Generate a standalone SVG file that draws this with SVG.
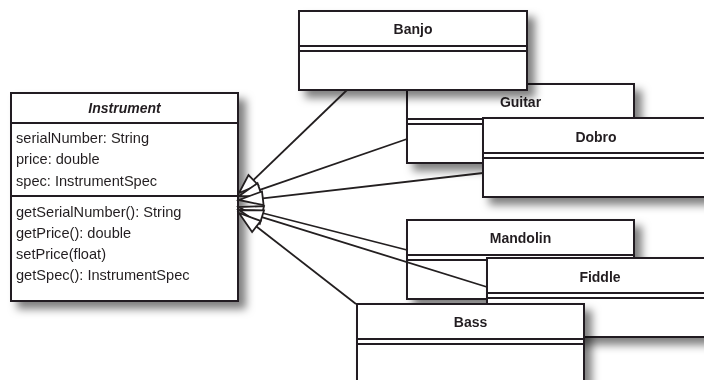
<svg xmlns="http://www.w3.org/2000/svg" width="704" height="380" viewBox="0 0 704 380">
<style>
.box{fill:#fff;stroke:#231f20;stroke-width:2}
.sep{stroke:#231f20;stroke-width:1.8;fill:none}
.t{font-family:"Liberation Sans",Arial,sans-serif;font-size:14.6px;fill:#231f20}
.n{font-family:"Liberation Sans",Arial,sans-serif;font-size:14px;font-weight:bold;fill:#231f20;text-anchor:middle}
.ln{stroke:#231f20;stroke-width:1.8;fill:none}
.ah{fill:#fff;stroke:#231f20;stroke-width:1.8;stroke-linejoin:miter}
</style>
<defs>
<filter id="sh" x="-20%" y="-20%" width="150%" height="170%">
<feDropShadow dx="7" dy="7" stdDeviation="4.5" flood-color="#000" flood-opacity="0.5"/>
</filter>
</defs>
<g id="instrument" filter="url(#sh)">
<rect class="box" x="11" y="93" width="227" height="208"/>
<line class="sep" x1="11" y1="123" x2="238" y2="123"/>
<line class="sep" x1="11" y1="196" x2="238" y2="196"/>
<text class="n" x="124.5" y="113" font-style="italic" font-size="15">Instrument</text>
<text class="t" x="16" y="143">serialNumber: String</text>
<text class="t" x="16" y="164">price: double</text>
<text class="t" x="16" y="186">spec: InstrumentSpec</text>
<text class="t" x="16" y="217">getSerialNumber(): String</text>
<text class="t" x="16" y="238">getPrice(): double</text>
<text class="t" x="16" y="259">setPrice(float)</text>
<text class="t" x="16" y="280">getSpec(): InstrumentSpec</text>
</g>
<g id="guitar" filter="url(#sh)">
<rect class="box" x="407" y="84" width="227" height="79"/>
<line class="sep" x1="407" y1="119" x2="634" y2="119"/>
<line class="sep" x1="407" y1="124" x2="634" y2="124"/>
<text class="n" x="520.5" y="107">Guitar</text>
</g>
<g id="banjo" filter="url(#sh)">
<rect class="box" x="299" y="11" width="228" height="79"/>
<line class="sep" x1="299" y1="46" x2="527" y2="46"/>
<line class="sep" x1="299" y1="51" x2="527" y2="51"/>
<text class="n" x="413" y="34">Banjo</text>
</g>
<g id="dobro" filter="url(#sh)">
<rect class="box" x="483" y="118" width="227" height="79"/>
<line class="sep" x1="483" y1="153" x2="710" y2="153"/>
<line class="sep" x1="483" y1="158" x2="710" y2="158"/>
<text class="n" x="596" y="142">Dobro</text>
</g>
<g id="mandolin" filter="url(#sh)">
<rect class="box" x="407" y="220" width="227" height="79"/>
<line class="sep" x1="407" y1="255" x2="634" y2="255"/>
<line class="sep" x1="407" y1="260" x2="634" y2="260"/>
<text class="n" x="520.5" y="243">Mandolin</text>
</g>
<g id="connectors">
<line class="ln" x1="253.4" y1="180.1" x2="347" y2="90"/>
<polygon class="ah" points="239,193 258.2,185.1 248.5,175.1"/>
<line class="ln" x1="259.8" y1="189.8" x2="407" y2="139"/>
<polygon class="ah" points="239,196 262.1,196.4 257.5,183.2"/>
<line class="ln" x1="262.8" y1="198.3" x2="483" y2="173"/>
<polygon class="ah" points="239,200 263.6,205.2 262.0,191.4"/>
<line class="ln" x1="262.3" y1="213" x2="407" y2="250"/>
<polygon class="ah" points="239,207 260.6,219.8 264.0,206.2"/>
<line class="ln" x1="261.9" y1="217.1" x2="487" y2="287"/>
<polygon class="ah" points="239,210 259.8,223.8 264.0,210.4"/>
<line class="ln" x1="256.4" y1="226.5" x2="356" y2="304"/>
<polygon class="ah" points="239,213 252.1,232.0 260.7,221.0"/>
</g>
<g id="fiddle" filter="url(#sh)">
<rect class="box" x="487" y="258" width="227" height="79"/>
<line class="sep" x1="487" y1="293" x2="714" y2="293"/>
<line class="sep" x1="487" y1="298" x2="714" y2="298"/>
<text class="n" x="600" y="282">Fiddle</text>
</g>
<g id="bass" filter="url(#sh)">
<rect class="box" x="357" y="304" width="227" height="79"/>
<line class="sep" x1="357" y1="339" x2="584" y2="339"/>
<line class="sep" x1="357" y1="344" x2="584" y2="344"/>
<text class="n" x="470.5" y="327">Bass</text>
</g>
</svg>
